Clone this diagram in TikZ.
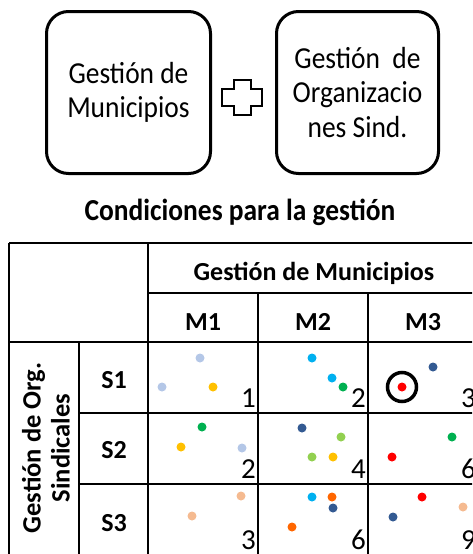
\documentclass[tikz,border=0pt]{standalone}
\usepackage{fontspec}
\setmainfont{Carlito}
\newfontfamily\tallfont[FakeStretch=0.9]{Carlito}
\definecolor{lblue}{HTML}{B4C7E7}
\definecolor{yel}{HTML}{FFC000}
\definecolor{grn}{HTML}{00B050}
\definecolor{cyn}{HTML}{00B0F0}
\definecolor{dblue}{HTML}{335A92}
\definecolor{lgrn}{HTML}{92D050}
\definecolor{rd}{HTML}{FF0000}
\definecolor{orng}{HTML}{FF6600}
\definecolor{pch}{HTML}{F5BA90}
\begin{document}
\begin{tikzpicture}[x=1pt,y=-1pt,
  box/.style={draw,line width=3pt,rounded corners=22pt,align=center,
    font=\tallfont\fontsize{30.5}{34.5}\selectfont},
  grid/.style={line width=2.4pt},
  dot/.style={circle,fill=#1,inner sep=0pt,minimum size=9pt},
  num/.style={anchor=base east,inner sep=0pt,font=\fontsize{29}{32}\selectfont},
  hdr/.style={anchor=base,inner sep=0pt,font=\bfseries\fontsize{26}{30}\selectfont}]
\useasboundingbox (0,0) rectangle (472,554);
\clip (0,0) rectangle (472,554);
% top boxes
\node[box,minimum width=164pt,minimum height=162pt] (gm) at (128.5,92.5) {Gestión de\\Municipios};
\node[box,minimum width=162pt,minimum height=162pt] (go) at (357.5,92.5) {Gestión\ \ de\\Organizacio\\nes Sind.};
% plus sign
\draw[line width=2pt] (233.5,80) -- (250.5,80) -- (250.5,88.5) -- (262,88.5) -- (262,106) -- (250.5,106)
  -- (250.5,115) -- (233.5,115) -- (233.5,106) -- (222,106) -- (222,88.5) -- (233.5,88.5) -- cycle;
% title
\node[anchor=base,inner sep=0pt,font=\tallfont\bfseries\fontsize{30.5}{34}\selectfont] (title) at (240,220) {Condiciones para la gestión};
% table grid
\draw[grid] (9,243) -- (482,243);
\draw[grid] (9,243) -- (9,560);
\draw[grid] (148,243) -- (148,560);
\draw[grid] (148,293) -- (482,293);
\draw[grid] (258,293) -- (258,560);
\draw[grid] (368,293) -- (368,560);
\draw[grid] (478,243) -- (478,560);
\draw[grid] (9,342) -- (482,342);
\draw[grid] (79,342) -- (79,560);
\draw[grid] (79,413) -- (482,413);
\draw[grid] (79,484) -- (482,484);
% headers
\node[hdr] (gdm) at (314,280) {Gestión de Municipios};
\node[hdr] (m1) at (203,330) {M1};
\node[hdr] (m2) at (313,330) {M2};
\node[hdr] (m3) at (423,330) {M3};
\node[hdr] (s1) at (114,388) {S1};
\node[hdr] (s2) at (114,458) {S2};
\node[hdr] (s3) at (114,531) {S3};
\node[rotate=90,align=center,inner sep=0pt,font=\bfseries\fontsize{26.5}{29}\selectfont] (gorg) at (46,448) {Gestión de Org.\\Sindicales};
% numbers
\node[num] (n11) at (256,407) {1};
\node[num] (n21) at (366,407) {2};
\node[num] (n31) at (476,407) {3};
\node[num] (n12) at (256,478) {2};
\node[num] (n22) at (366,478) {4};
\node[num] (n32) at (476,478) {6};
\node[num] (n13) at (256,549) {3};
\node[num] (n23) at (366,549) {6};
\node[num] (n33) at (476,549) {9};
% dots M1
\node[dot=lblue] (a1) at (200,358) {};
\node[dot=lblue] (a2) at (162,387) {};
\node[dot=yel] (a3) at (213,387) {};
\node[dot=grn] (b1) at (202,427) {};
\node[dot=yel] (b2) at (181,447) {};
\node[dot=lblue] (b3) at (242,448) {};
\node[dot=pch] (c1) at (192,516) {};
\node[dot=pch] (c2) at (241,496) {};
% dots M2
\node[dot=cyn] (d1) at (312,358) {};
\node[dot=cyn] (d2) at (332,378) {};
\node[dot=grn] (d3) at (343,387) {};
\node[dot=dblue] (e1) at (302,428) {};
\node[dot=lgrn] (e2) at (341,437) {};
\node[dot=lgrn] (e3) at (312,457) {};
\node[dot=yel] (e4) at (333,457) {};
\node[dot=cyn] (f1) at (312,497) {};
\node[dot=orng] (f2) at (332,497) {};
\node[dot=dblue] (f3) at (333,508) {};
\node[dot=orng] (f4) at (292,527) {};
% dots M3
\node[dot=rd] (g1) at (402,387) {};
\node[draw,circle,line width=3.5pt,minimum size=29pt,inner sep=0pt] (ring) at (g1) {};
\node[dot=dblue] (g2) at (433,367) {};
\node[dot=grn] (h1) at (452,437) {};
\node[dot=rd] (h2) at (392,457) {};
\node[dot=rd] (i1) at (422,497) {};
\node[dot=pch] (i2) at (463,507) {};
\node[dot=dblue] (i3) at (393,517) {};
\end{tikzpicture}
\end{document}
